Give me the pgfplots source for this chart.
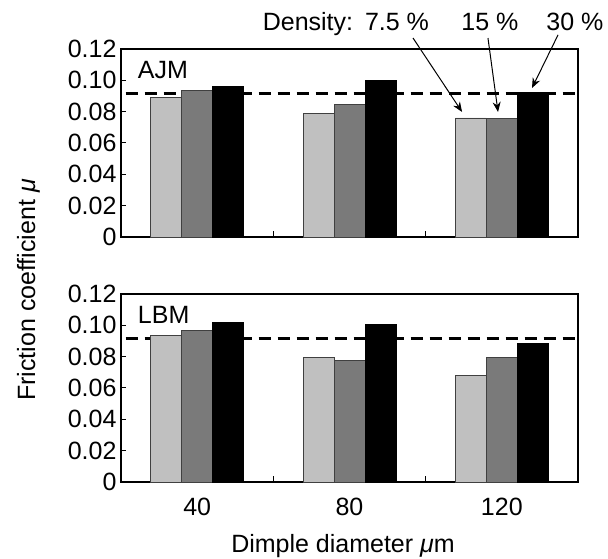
\documentclass[border=0pt]{standalone}
\usepackage{fontspec}
\setmainfont{Liberation Sans}
\usepackage{pgfplots}
\pgfplotsset{compat=1.18}
\usetikzlibrary{arrows.meta}
\definecolor{lightbar}{RGB}{192,192,192}
\definecolor{midbar}{RGB}{122,122,122}
\newcommand{\bigfont}{\fontsize{25}{29}\selectfont}
\tikzset{arr/.style={-{Stealth[length=10pt,width=8pt]}, line width=1pt}}
\pgfplotsset{
  myaxis/.style={
    scale only axis, width=457pt, height=188pt,
    xmin=-0.5, xmax=2.5, ymin=0, ymax=0.12,
    ytick={0,0.02,0.04,0.06,0.08,0.10,0.12},
    yticklabels={0,0.02,0.04,0.06,0.08,0.10,0.12},
    ytick pos=left, tick align=inside,
    major tick length=5pt, minor tick length=6pt,
    xtick={0,1,2}, minor xtick={0.5,1.5}, xtick pos=bottom,
    major x tick style={draw=none},
    every tick/.style={black, line width=1pt},
    axis line style={line width=1.5pt},
    tick label style={font=\bigfont},
    yticklabel style={xshift=-1pt},
    /pgf/number format/assume math mode=true,
    clip=false,
  },
  lightstyle/.style={ybar, bar width=31pt, bar shift=-31pt, fill=lightbar, draw=black!75, line width=0.8pt},
  midstyle/.style={ybar, bar width=31pt, bar shift=0pt, fill=midbar, draw=black!75, line width=0.8pt},
  darkstyle/.style={ybar, bar width=31pt, bar shift=31pt, fill=black, draw=black, line width=0.8pt},
  dashstyle/.style={black, line width=2.5pt, dash pattern=on 12pt off 7pt},
}
\begin{document}
\begin{tikzpicture}
\useasboundingbox (0,0) rectangle (608pt,559pt);
% top axis: AJM
\begin{axis}[myaxis, at={(121pt,322pt)}, anchor=south west, xticklabels={}]
\addplot[dashstyle] coordinates {(-0.47,0.0916) (2.5,0.0916)};
\addplot[lightstyle] coordinates {(0,0.0888) (1,0.0786) (2,0.0760)};
\addplot[midstyle] coordinates {(0,0.0935) (1,0.0847) (2,0.0756)};
\addplot[darkstyle] coordinates {(0,0.0961) (1,0.1002) (2,0.0920)};
\node[anchor=north west, font=\bigfont, inner sep=0pt] at (axis cs:-0.39,0.112) {AJM};
\node[anchor=base east, font=\bigfont, inner sep=0pt] at (axis cs:1.025,0.1315) {Density:};
\node[anchor=base, font=\bigfont, inner sep=0pt] at (axis cs:1.312,0.1315) {7.5 \%};
\node[anchor=base, font=\bigfont, inner sep=0pt] at (axis cs:1.922,0.1315) {15 \%};
\node[anchor=base, font=\bigfont, inner sep=0pt] at (axis cs:2.48,0.1315) {30 \%};
\draw[arr] (axis cs:1.417,0.127) -- (axis cs:1.739,0.0798);
\draw[arr] (axis cs:1.909,0.127) -- (axis cs:1.975,0.0798);
\draw[arr] (axis cs:2.369,0.129) -- (axis cs:2.198,0.0951);
\end{axis}
% bottom axis: LBM
\begin{axis}[myaxis, at={(121pt,77pt)}, anchor=south west, xticklabels={40,80,120},
  xticklabel style={yshift=-13pt}]
\addplot[dashstyle] coordinates {(-0.47,0.0916) (2.5,0.0916)};
\addplot[lightstyle] coordinates {(0,0.0933) (1,0.0797) (2,0.0678)};
\addplot[midstyle] coordinates {(0,0.0970) (1,0.0776) (2,0.0793)};
\addplot[darkstyle] coordinates {(0,0.1016) (1,0.1006) (2,0.0887)};
\node[anchor=north west, font=\bigfont, inner sep=0pt] at (axis cs:-0.39,0.112) {LBM};
\end{axis}
\node[font=\bigfont, rotate=90, anchor=base] at (35pt,269pt) {Friction coefficient \textit{μ}};
\node[font=\bigfont, anchor=base] at (343pt,6pt) {Dimple diameter \textit{μ}m};
\end{tikzpicture}
\end{document}
